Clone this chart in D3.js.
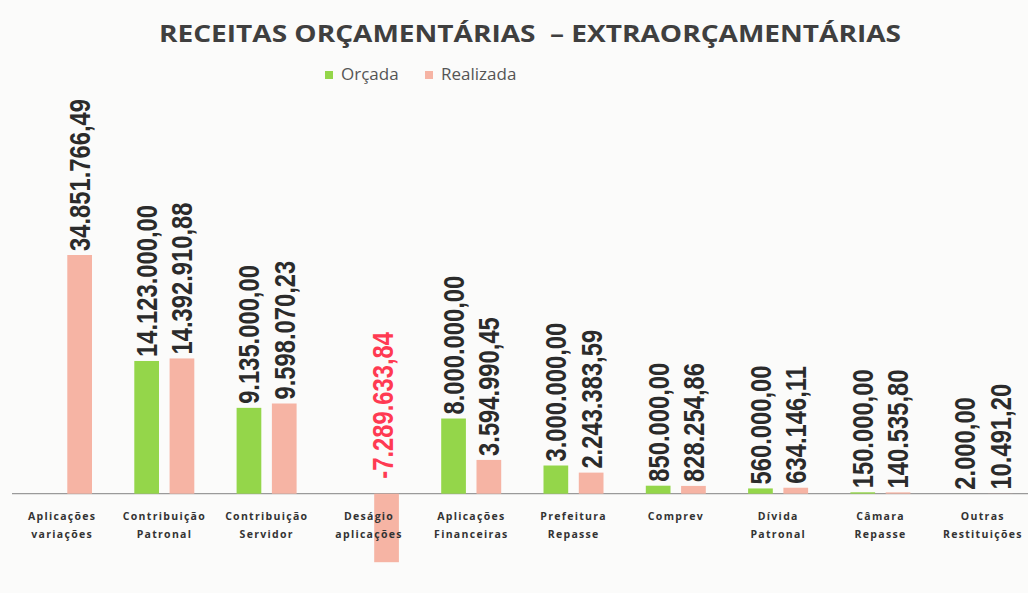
<!DOCTYPE html>
<html>
<head>
<meta charset="utf-8">
<script src="https://cdn.jsdelivr.net/npm/d3@7"></script>
<style>
  body { margin: 0; background: #fbfbfa; }
  svg { display: block; }
</style>
</head>
<body>
<div id="chart"></div>
<script>
// dados
const categorias = [
  ["Aplicações", "variações"],
  ["Contribuição", "Patronal"],
  ["Contribuição", "Servidor"],
  ["Deságio", "aplicações"],
  ["Aplicações", "Financeiras"],
  ["Prefeitura", "Repasse"],
  ["Comprev"],
  ["Dívida", "Patronal"],
  ["Câmara", "Repasse"],
  ["Outras", "Restituições"]
];
const orcada = [null, 14123000.0, 9135000.0, null, 8000000.0, 3000000.0, 850000.0, 560000.0, 150000.0, 2000.0];
const realizada = [34851766.49, 14392910.88, 9598070.23, -7289633.84, 3594990.45, 2243383.59, 828254.86, 634146.11, 140535.8, 10491.2];
const series = ["Orçada", "Realizada"];
const cores = ["#94d64a", "#f6b4a4"];

const width = 1028, height = 593;

const svg = d3.select("#chart")
  .append("svg")
  .attr("width", width)
  .attr("height", height);

const fmt = d3.formatLocale({
  decimal: ",", thousands: ".", grouping: [3], currency: ["R$", ""], minus: "-"
}).format(",.2f");

const data = categorias.map((c, i) => ({
  i,
  cat: c,
  values: [orcada[i], realizada[i]]
}));

const x = d3.scaleBand()
  .domain(d3.range(categorias.length))
  .range([11, 1034]);

const x1 = d3.scaleBand()
  .domain(series)
  .range([21, 81])
  .paddingInner(0.3);

// o maior valor foi cortado no original, por isso clamp
const y = d3.scaleLinear()
  .domain([-7800000, 25400000])
  .range([567, 255])
  .clamp(true);

// título
svg.append("text")
  .attr("x", 530)
  .attr("y", 42)
  .attr("text-anchor", "middle")
  .attr("font-family", "'Open Sans', sans-serif")
  .attr("font-weight", "bold")
  .attr("font-size", 24)
  .attr("fill", "#3f3f3f")
  .attr("textLength", 742)
  .attr("lengthAdjust", "spacingAndGlyphs")
  .text("RECEITAS ORÇAMENTÁRIAS\u00a0\u00a0– EXTRAORÇAMENTÁRIAS");

// legenda
const leg = svg.append("g").attr("transform", "translate(325,71)");
const legX = [0, 100];
series.forEach((s, i) => {
  leg.append("rect")
    .attr("x", legX[i])
    .attr("y", 0)
    .attr("width", 8)
    .attr("height", 8)
    .attr("fill", cores[i]);
  leg.append("text")
    .attr("x", legX[i] + 16)
    .attr("y", 9)
    .attr("font-family", "'Open Sans', sans-serif")
    .attr("font-size", 17)
    .attr("fill", "#555")
    .text(s);
});

// linha do zero
svg.append("line")
  .attr("x1", 12)
  .attr("x2", width)
  .attr("y1", y(0))
  .attr("y2", y(0))
  .attr("stroke", "#9a9a9a")
  .attr("stroke-width", 1.2);

const groups = svg.selectAll("g.cat")
  .data(data)
  .join("g")
  .attr("class", "cat")
  .attr("transform", (d) => `translate(${x(d.i)},0)`);

const bars = groups.selectAll("g.bar")
  .data((d) => d.values.map((v, k) => ({ v, s: series[k], k })).filter((e) => e.v !== null))
  .join("g")
  .attr("class", "bar");

bars.append("rect")
  .attr("x", (d) => x1(d.s))
  .attr("width", x1.bandwidth())
  .attr("y", (d) => Math.min(y(d.v), y(0)))
  .attr("height", (d) => Math.abs(y(d.v) - y(0)))
  .attr("fill", (d) => cores[d.k]);

bars.append("text")
  .attr("transform", (d) => {
    const cx = x1(d.s) + x1.bandwidth() / 2 - (d.v < 0 ? 4 : 0);
    const top = d.v < 0 ? y(0) - 15 : y(d.v) - 4;
    return `translate(${cx},${top}) rotate(-90) scale(0.82,1)`;
  })
  .attr("dy", "0.36em")
  .attr("font-family", "'Liberation Sans', Arial, sans-serif")
  .attr("font-weight", "bold")
  .attr("font-size", 29)
  .attr("fill", (d) => (d.v < 0 ? "#ff3a52" : "#2b2b2b"))
  .text((d) => fmt(d.v));

// rótulos das categorias
const lab = groups.append("text")
  .attr("x", x.bandwidth() / 2)
  .attr("y", 520)
  .attr("text-anchor", "middle")
  .attr("font-family", "'Open Sans', sans-serif")
  .attr("font-weight", "bold")
  .attr("font-size", 10.5)
  .attr("letter-spacing", 1.3)
  .attr("fill", "#333");

lab.selectAll("tspan")
  .data((d) => d.cat)
  .join("tspan")
  .attr("x", x.bandwidth() / 2)
  .attr("dy", (d, i) => (i === 0 ? 0 : 18))
  .text((d) => d);
</script>
</body>
</html>
